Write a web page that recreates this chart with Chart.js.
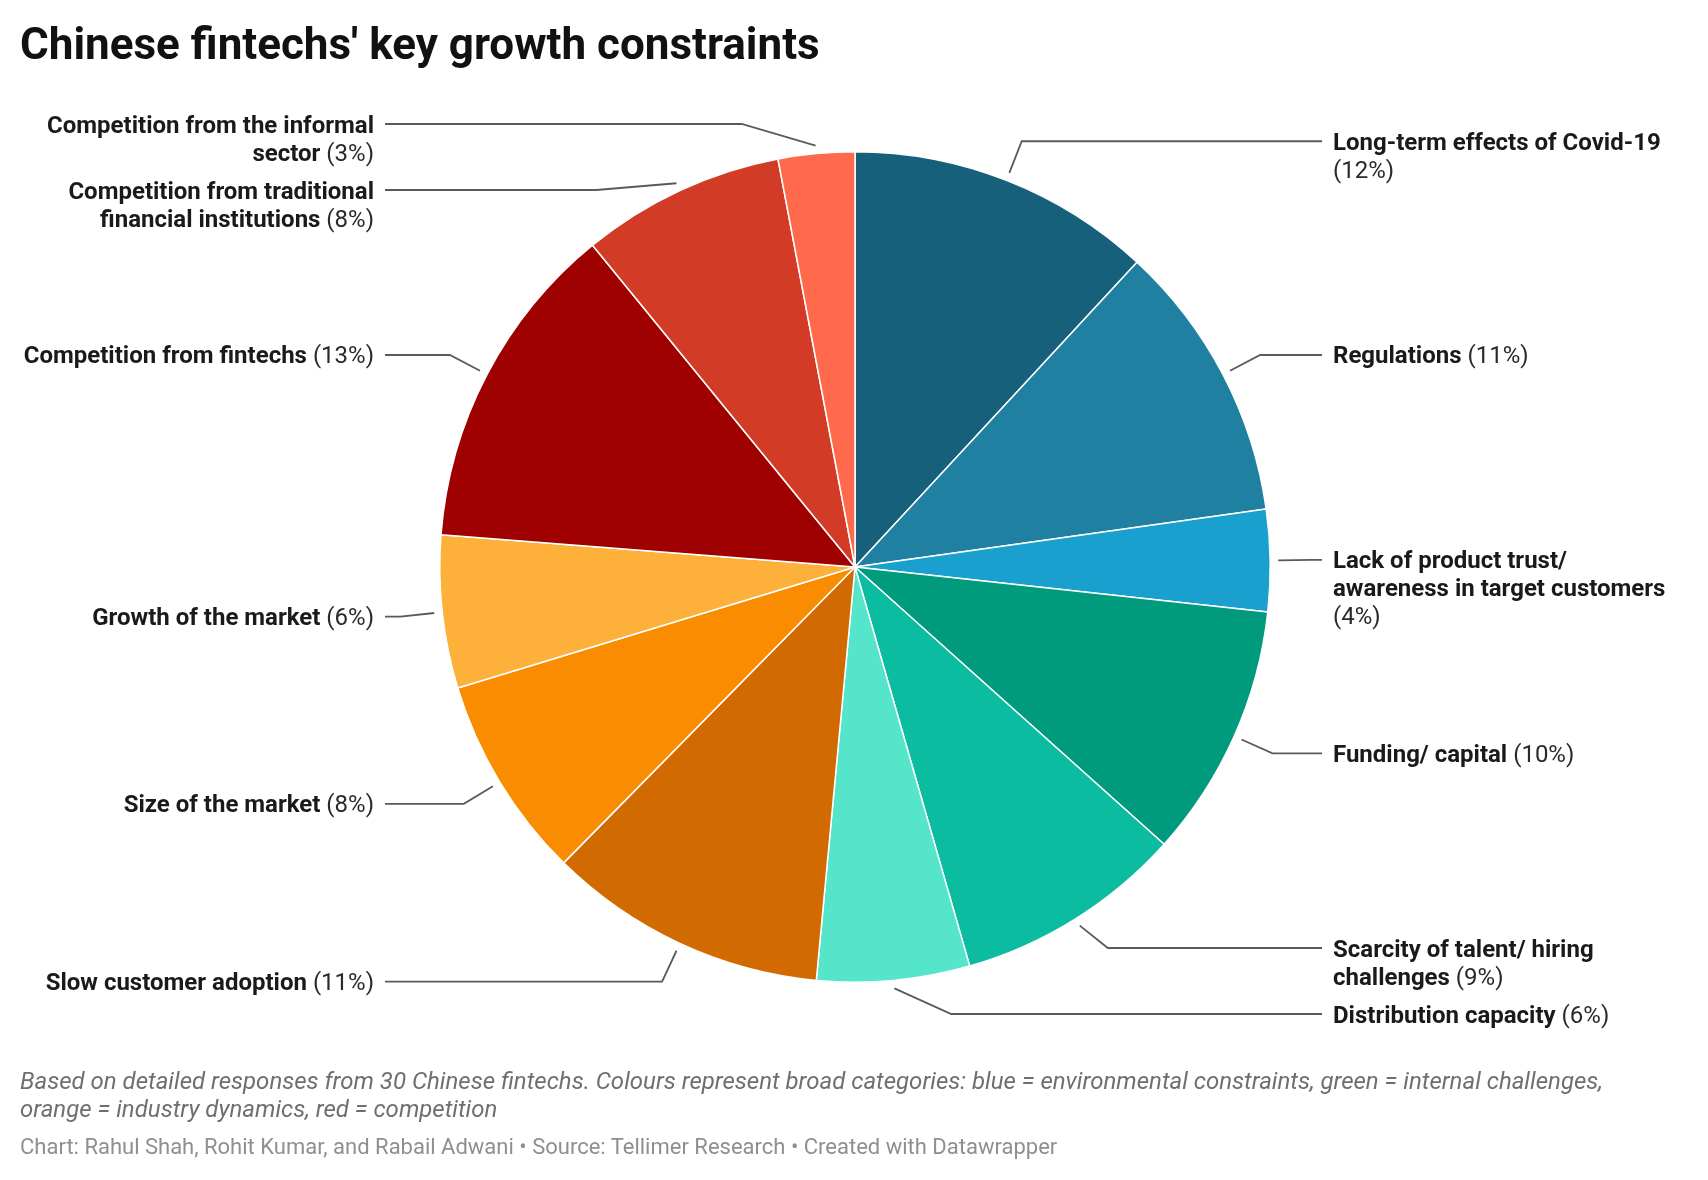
<!DOCTYPE html>
<html>
<head>
<meta charset="utf-8">
<script src="https://cdn.jsdelivr.net/npm/chart.js"></script>
<style>
  html, body { margin: 0; padding: 0; background: #fff; }
  #wrap { position: relative; width: 1708px; height: 1180px; overflow: hidden; }
  #pie { position: absolute; left: 0; top: 0; }
  .title { position: absolute; left: 20px; top: 22px; font: 700 44px/44px Roboto, sans-serif; color: #111; white-space: nowrap; }
  .notes { position: absolute; left: 20px; top: 1067px; width: 1630px; font: italic 400 24px/28px Roboto, sans-serif; color: #6f6f6f; }
  .source { position: absolute; left: 20px; top: 1135px; font: 400 22px/24px Roboto, sans-serif; color: #8f8f8f; white-space: nowrap; }
</style>
</head>
<body>
<div id="wrap">
  <canvas id="pie" width="1708" height="1180"></canvas>
  <div class="title">Chinese fintechs' key growth constraints</div>
  <div class="notes">Based on detailed responses from 30 Chinese fintechs. Colours represent broad categories: blue = environmental constraints, green = internal challenges, orange = industry dynamics, red = competition</div>
  <div class="source">Chart: Rahul Shah, Rohit Kumar, and Rabail Adwani • Source: Tellimer Research • Created with Datawrapper</div>
</div>

<script>
// -- Slices, clockwise from 12 o'clock. '\n' marks where the label wraps.
const categories = [
  'Long-term effects of Covid-19\n',
  'Regulations',
  'Lack of product trust/\nawareness in target customers\n',
  'Funding/ capital',
  'Scarcity of talent/ hiring\nchallenges',
  'Distribution capacity',
  'Slow customer adoption',
  'Size of the market',
  'Growth of the market',
  'Competition from fintechs',
  'Competition from traditional\nfinancial institutions',
  'Competition from the informal\nsector',
];
const values = [12, 11, 4, 10, 9, 6, 11, 8, 6, 13, 8, 3];
const colors = [
  '#17607b', '#1f80a1', '#1aa0ce', '#009b7e', '#0bbca0', '#55e5ca',
  '#d16a00', '#f98c00', '#fdb03a', '#9f0000', '#d23c27', '#ff6a4c',
];

const LABEL_SIZE = 24;
const LINE_H = 28;
const LABEL_PAD = 10;
const Y_MIN = 124, Y_MAX = 1014;

// -- Split a label into lines of {text, bold} pieces; the percentage is regular weight.
const label_lines = (name, value) => {
  const pct = '(' + value + '%)';
  const parts = name.split('\n');
  const last = parts.pop();
  const lines = parts.map(t => [{text: t, bold: true}]);
  if (last === '') lines.push([{text: pct, bold: false}]);
  else lines.push([{text: last, bold: true}, {text: ' ' + pct, bold: false}]);
  return lines;
};

const set_font = (ctx, bold) => {
  ctx.font = (bold ? '700 ' : '400 ') + LABEL_SIZE + 'px Roboto, sans-serif';
};

const outside_labels = {
  id: 'outsideLabels',
  afterDraw(chart) {
    const ctx = chart.ctx;
    const meta = chart.getDatasetMeta(0);
    const items = meta.data.map((arc, i) => {
      const {x, y, startAngle, endAngle, outerRadius} = arc.getProps(['x', 'y', 'startAngle', 'endAngle', 'outerRadius'], true);
      const mid = (startAngle + endAngle) / 2;
      const r0 = outerRadius + 8, re = outerRadius + 42;
      return {
        cx: x, cy: y, re,
        right: Math.cos(mid) >= 0,
        sx: x + r0 * Math.cos(mid), sy: y + r0 * Math.sin(mid),
        ny: y + re * Math.sin(mid),
        lines: label_lines(categories[i], values[i]),
      };
    });

    // -- Stack labels on each side so they do not overlap.
    [true, false].forEach(side => {
      const list = items.filter(d => d.right === side).sort((a, b) => a.ny - b.ny);
      let prev = null;
      list.forEach(d => {
        d.ly = Math.max(d.ny, Y_MIN, prev ? prev.ly + prev.lines.length * LINE_H + LABEL_PAD : -Infinity);
        prev = d;
      });
      let next = null;
      for (let i = list.length - 1; i >= 0; i--) {
        const d = list[i];
        const lim = next ? next.ly - d.lines.length * LINE_H - LABEL_PAD : Y_MAX - (d.lines.length - 1) * LINE_H;
        d.ly = Math.min(d.ly, lim);
        next = d;
      }
    });

    ctx.save();
    ctx.strokeStyle = '#5a5a5a';
    ctx.lineWidth = 1.8;
    ctx.textBaseline = 'alphabetic';
    ctx.textAlign = 'left';
    items.forEach(d => {
      const dy = d.ly - d.cy;
      const dx = Math.sqrt(Math.max(d.re * d.re - dy * dy, 0));
      const ex = d.right ? d.cx + dx : d.cx - dx;
      const endX = d.right ? 1322 : 385;
      ctx.beginPath();
      ctx.moveTo(d.sx, d.sy);
      ctx.lineTo(ex, d.ly);
      ctx.lineTo(endX, d.ly);
      ctx.stroke();

      d.lines.forEach((line, k) => {
        const base = d.ly + k * LINE_H + 8.5;
        const widths = line.map(p => { set_font(ctx, p.bold); return ctx.measureText(p.text).width; });
        let tx = d.right ? 1333 : 374 - widths.reduce((a, b) => a + b, 0);
        line.forEach((p, j) => {
          set_font(ctx, p.bold);
          ctx.fillStyle = p.bold ? '#1a1a1a' : '#2a2a2a';
          ctx.fillText(p.text, tx, base);
          tx += widths[j];
        });
      });
    });
    ctx.restore();
  }
};

const chart = new Chart(document.getElementById('pie'), {
  type: 'pie',
  data: {
    labels: categories.map(c => c.replace(/\n/g, ' ').trim()),
    datasets: [{
      data: values,
      backgroundColor: colors,
      borderColor: '#ffffff',
      borderWidth: 1.5,
    }],
  },
  options: {
    responsive: false,
    animation: false,
    layout: { padding: { left: 439, right: 437, top: 151, bottom: 197 } },
    plugins: {
      legend: { display: false },
      tooltip: { enabled: false },
    },
  },
  plugins: [outside_labels],
});
</script>
</body>
</html>
